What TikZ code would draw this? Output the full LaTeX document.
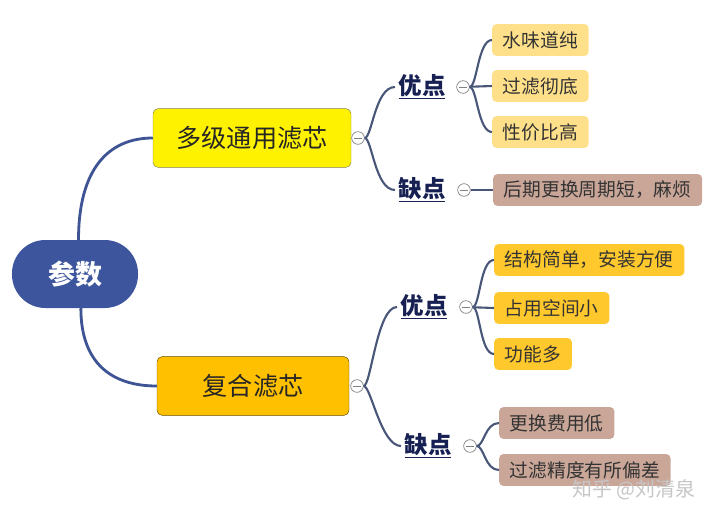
\documentclass[tikz,border=0pt]{standalone}
\usepackage{fontspec}
\setmainfont{Noto Sans CJK SC}
\usetikzlibrary{shapes, arrows, positioning, calc}

\definecolor{rootblue}{RGB}{61,85,156}
\definecolor{mainline}{RGB}{62,84,148}
\definecolor{subline}{RGB}{72,86,120}
\definecolor{labelnavy}{RGB}{22,32,82}
\definecolor{leafyellow}{RGB}{255,224,138}
\definecolor{leafgold}{RGB}{255,200,44}
\definecolor{leafbrown}{RGB}{201,166,152}
\definecolor{comboorange}{RGB}{255,192,0}

\begin{document}
\begin{tikzpicture}[x=0.3mm, y=-0.3mm]
    \tikzstyle{topic} = [draw, rectangle, rounded corners=1.5mm, minimum height=17.6mm, align=center, font=\fontsize{21.5}{24}\selectfont, text=black!85]
    \tikzstyle{side} = [inner sep=1mm, text=labelnavy, font=\fontsize{20}{22}\selectfont\bfseries]
    \tikzstyle{leaf} = [rectangle, rounded corners=1.2mm, minimum height=9.5mm, inner xsep=3.2mm, anchor=west, text=black!80, font=\fontsize{16}{18}\selectfont]
    \tikzstyle{fold} = [circle, draw=gray, fill=white, line width=0.6pt, minimum size=3.8mm, inner sep=0pt, path picture={\draw[gray, line width=0.7pt] ($(path picture bounding box.west)+(0.8mm,0)$) -- ($(path picture bounding box.east)+(-0.8mm,0)$);}]
    \tikzstyle{branch} = [draw=mainline, line width=2.4pt]
    \tikzstyle{twig} = [draw=subline, line width=1.8pt]

    \useasboundingbox (0,0) rectangle (720,517);

    % root and main topics
    \node[fill=rootblue, rounded corners=10mm, minimum width=37.8mm, minimum height=20.4mm, text=white, font=\fontsize{23}{26}\selectfont\bfseries] (root) at (75,274) {参数};
    \node[topic, fill=yellow, draw=black!55!yellow, minimum width=59.4mm] (multi) at (252,138) {多级通用滤芯};
    \node[topic, fill=comboorange, draw=black!60!comboorange, minimum width=57.6mm] (combo) at (253,386) {复合滤芯};

    \draw[branch] ([xshift=3]root.north) .. controls +(0,-70) and +(-45,0) .. (multi.west);
    \draw[branch] ([xshift=5]root.south) .. controls +(0,55) and +(-45,0) .. (combo.west);

    \node[fold] (f1) at (358,138) {};
    \node[fold] (f2) at (357,386) {};

    % upper half
    \node[side] (pro1) at (422,87) {\underline{优点}};
    \node[side] (con1) at (422,190) {\underline{缺点}};
    \draw[twig] (f1) .. controls +(14,0) and +(-20,0) .. (pro1.west);
    \draw[twig] (f1) .. controls +(14,0) and +(-20,0) .. (con1.west);

    \node[fold] (fp1) at (463,87) {};
    \node[fold] (fc1) at (464,190) {};

    \node[leaf, fill=leafyellow] (p11) at (492,40) {水味道纯};
    \node[leaf, fill=leafyellow] (p12) at (492,86) {过滤彻底};
    \node[leaf, fill=leafyellow] (p13) at (492,132) {性价比高};
    \node[leaf, fill=leafbrown] (c11) at (493,190) {后期更换周期短，麻烦};

    \draw[twig] (fp1) .. controls +(14,0) and +(-14,0) .. (p11.west);
    \draw[twig] (fp1) -- (p12.west);
    \draw[twig] (fp1) .. controls +(14,0) and +(-14,0) .. (p13.west);
    \draw[twig] (fc1) -- (c11.west);

    % lower half
    \node[side] (pro2) at (424,307) {\underline{优点}};
    \node[side] (con2) at (428,446) {\underline{缺点}};
    \draw[twig] (f2) .. controls +(14,0) and +(-20,0) .. (pro2.west);
    \draw[twig] (f2) .. controls +(14,0) and +(-20,0) .. (con2.west);

    \node[fold] (fp2) at (466,307) {};
    \node[fold] (fc2) at (470,446) {};

    \node[leaf, fill=leafgold] (p21) at (494,260) {结构简单，安装方便};
    \node[leaf, fill=leafgold] (p22) at (494,308) {占用空间小};
    \node[leaf, fill=leafgold] (p23) at (494,354) {功能多};
    \node[leaf, fill=leafbrown] (c21) at (499,423) {更换费用低};
    \node[leaf, fill=leafbrown] (c22) at (499,470) {过滤精度有所偏差};

    \draw[twig] (fp2) .. controls +(14,0) and +(-14,0) .. (p21.west);
    \draw[twig] (fp2) -- (p22.west);
    \draw[twig] (fp2) .. controls +(14,0) and +(-14,0) .. (p23.west);
    \draw[twig] (fc2) .. controls +(14,0) and +(-14,0) .. (c21.west);
    \draw[twig] (fc2) .. controls +(14,0) and +(-14,0) .. (c22.west);

    % watermark
    \node[text=gray!45, font=\fontsize{17}{19}\selectfont] (mark) at (634,490) {知乎 @刘清泉};
\end{tikzpicture}
\end{document}
